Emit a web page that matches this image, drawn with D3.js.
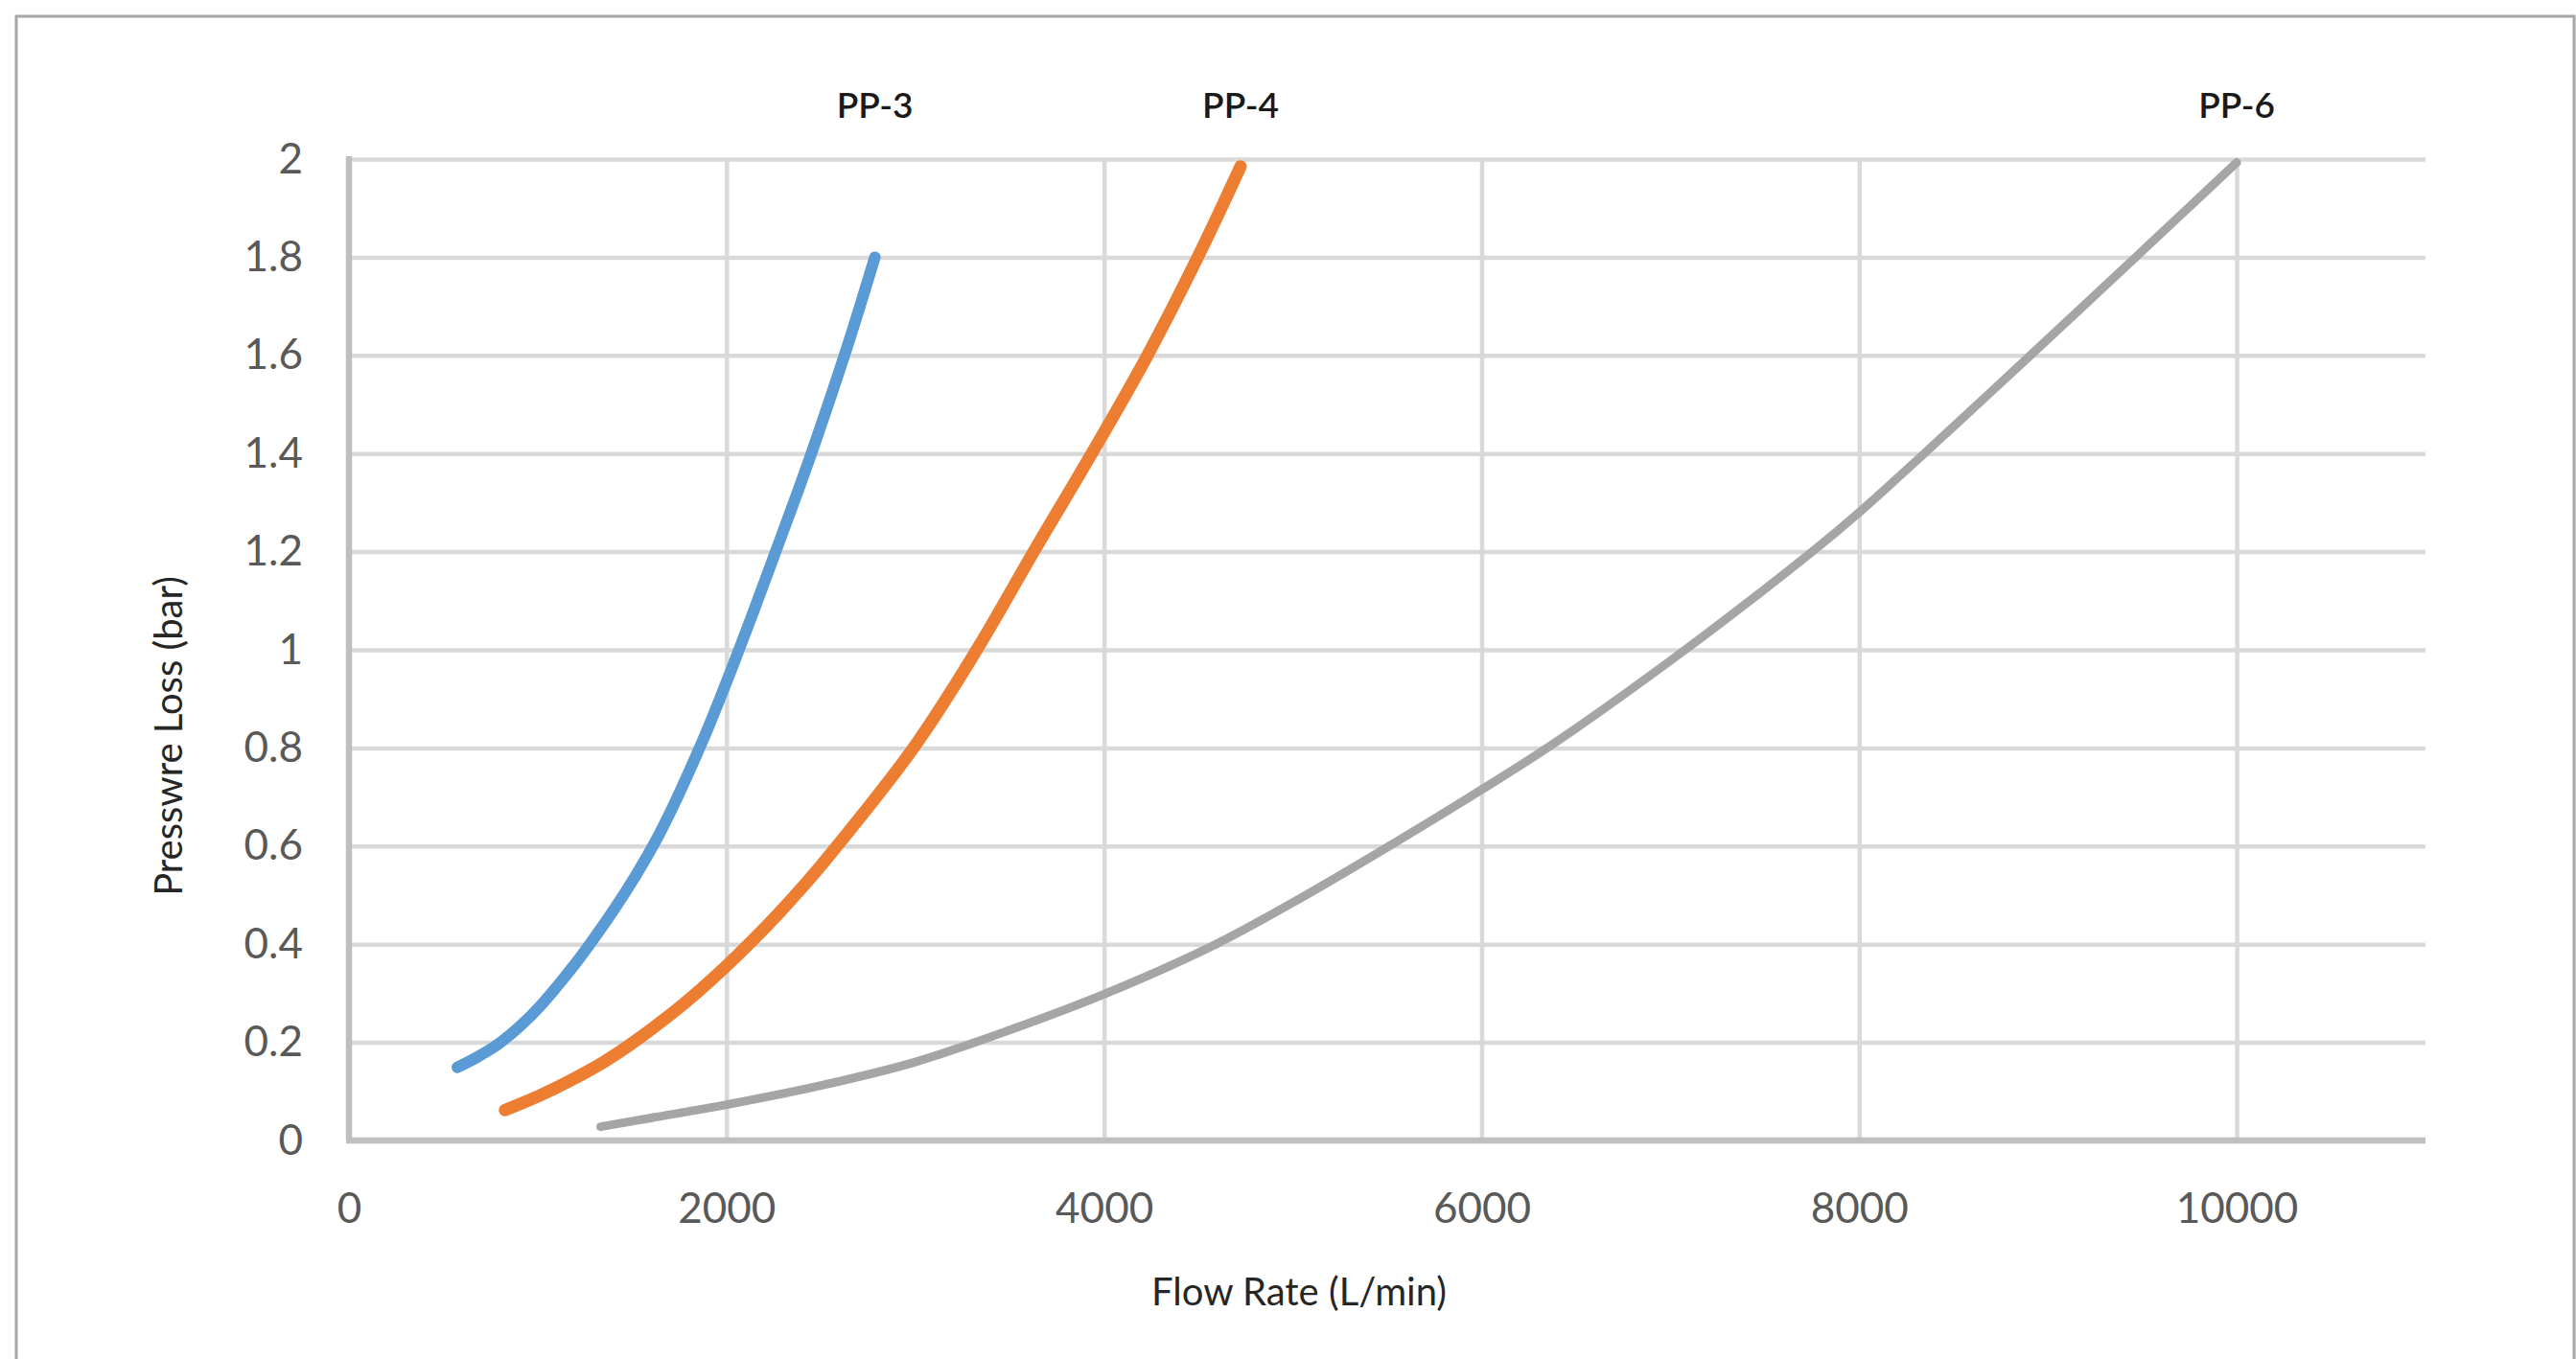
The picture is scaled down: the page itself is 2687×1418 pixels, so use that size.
<!DOCTYPE html>
<html>
<head>
<meta charset="utf-8">
<script src="https://cdn.jsdelivr.net/npm/d3@7"></script>
<style>
  body { margin: 0; background: #fff; }
  svg { display: block; }
</style>
</head>
<body>
<div id="chart"></div>
<script>
// Pressure loss vs flow rate for three pump sizes.
const seriesNames = ["PP-3", "PP-4", "PP-6"];
const seriesColors = ["#5b9bd5", "#ed7d31", "#a5a5a5"];
const seriesWidths = [12, 13, 9];

const pp3Flow = [574, 675, 793, 912, 1013, 1182, 1283, 1401, 1519, 1620, 1722, 1823, 1907, 2026, 2140, 2270, 2380, 2463, 2633, 2786];
const pp3Loss = [0.149, 0.169, 0.197, 0.235, 0.274, 0.352, 0.404, 0.469, 0.54, 0.607, 0.685, 0.77, 0.845, 0.96, 1.075, 1.21, 1.325, 1.415, 1.61, 1.8];

const pp4Flow = [827, 1013, 1182, 1350, 1485, 1688, 1857, 2000, 2118, 2279, 2397, 2532, 2990, 3310, 3635, 3950, 4230, 4490, 4723];
const pp4Loss = [0.062, 0.092, 0.124, 0.16, 0.194, 0.252, 0.306, 0.356, 0.4, 0.464, 0.514, 0.575, 0.8, 0.99, 1.205, 1.41, 1.6, 1.795, 1.985];

const pp6Flow = [1333, 1600, 2000, 2500, 3000, 3500, 4000, 4582, 5000, 5510, 6000, 6367, 7078, 7752, 8000, 8345, 8893, 9456, 10000];
const pp6Loss = [0.028, 0.046, 0.073, 0.112, 0.16, 0.225, 0.298, 0.398, 0.485, 0.6, 0.715, 0.805, 1.0, 1.2, 1.28, 1.4, 1.595, 1.797, 1.993];

const xTicks = [0, 2000, 4000, 6000, 8000, 10000];
const yTicks = [0, 0.2, 0.4, 0.6, 0.8, 1, 1.2, 1.4, 1.6, 1.8, 2];

const series = [
    { name: seriesNames[0], points: d3.zip(pp3Flow, pp3Loss) },
    { name: seriesNames[1], points: d3.zip(pp4Flow, pp4Loss) },
    { name: seriesNames[2], points: d3.zip(pp6Flow, pp6Loss) }
];

const width = 2687;
const height = 1418;
const margin = { top: 166, right: 157, bottom: 228, left: 364 };
const plotW = width - margin.left - margin.right;
const plotH = height - margin.top - margin.bottom;
const font = "Lato, 'Open Sans', sans-serif";

const svg = d3.select("#chart").append("svg")
    .attr("width", width)
    .attr("height", height);

// outer frame (only top and left edges fall inside the picture)
svg.append("rect")
    .attr("x", 17).attr("y", 17)
    .attr("width", 2668).attr("height", 1440)
    .attr("fill", "none")
    .attr("stroke", "#a6a6a6")
    .attr("stroke-width", 3);

const g = svg.append("g").attr("transform", `translate(${margin.left},${margin.top})`);

const x = d3.scaleLinear().domain([0, 11000]).range([0, plotW]);
const y = d3.scaleLinear().domain([0, 2]).range([plotH, 0]);

// gridlines
const gridY = g.append("g")
    .call(d3.axisLeft(y).tickValues(yTicks.filter(d => d > 0)).tickSize(-plotW).tickFormat(""));
const gridX = g.append("g")
    .attr("transform", `translate(0,${plotH})`)
    .call(d3.axisBottom(x).tickValues(xTicks.filter(d => d > 0)).tickSize(-plotH).tickFormat(""));
[gridY, gridX].forEach(grid => {
    grid.select(".domain").remove();
    grid.selectAll("line").attr("stroke", "#d9d9d9").attr("stroke-width", 4.5);
});

// axis lines
g.append("line")
    .attr("x1", 0).attr("x2", 0).attr("y1", -3).attr("y2", plotH)
    .attr("stroke", "#bfbfbf").attr("stroke-width", 6.5);
g.append("line")
    .attr("x1", -3).attr("x2", plotW).attr("y1", plotH).attr("y2", plotH)
    .attr("stroke", "#bfbfbf").attr("stroke-width", 6.5);

// tick labels
const yAxis = g.append("g")
    .call(d3.axisLeft(y).tickValues(yTicks).tickSize(0).tickPadding(48).tickFormat(d3.format("~g")));
const xAxis = g.append("g")
    .attr("transform", `translate(0,${plotH})`)
    .call(d3.axisBottom(x).tickValues(xTicks).tickSize(0).tickPadding(55).tickFormat(d3.format("d")));
[yAxis, xAxis].forEach(axis => {
    axis.select(".domain").remove();
    axis.selectAll("text")
        .attr("fill", "#595959")
        .style("font-family", font)
        .style("font-size", "44px");
});

// curves
const line = d3.line()
    .x(d => x(d[0]))
    .y(d => y(d[1]))
    .curve(d3.curveCatmullRom.alpha(0.5));

g.selectAll(".curve")
    .data(series)
    .join("path")
    .attr("class", "curve")
    .attr("d", s => line(s.points))
    .attr("fill", "none")
    .attr("stroke", (s, i) => seriesColors[i])
    .attr("stroke-width", (s, i) => seriesWidths[i])
    .attr("stroke-linecap", "round")
    .attr("stroke-linejoin", "round");

// series labels above the end of each curve
g.selectAll(".series-label")
    .data(series)
    .join("text")
    .attr("class", "series-label")
    .attr("x", s => x(s.points[s.points.length - 1][0]))
    .attr("y", 123 - margin.top)
    .attr("text-anchor", "middle")
    .attr("fill", "#1a1a1a")
    .style("font-family", font)
    .style("font-weight", "600")
    .style("font-size", "37px")
    .text(s => s.name);

// axis titles
svg.append("text")
    .attr("x", 1355)
    .attr("y", 1362)
    .attr("text-anchor", "middle")
    .attr("fill", "#262626")
    .style("font-family", font)
    .style("font-size", "40px")
    .text("Flow Rate (L/min)");

svg.append("text")
    .attr("transform", "translate(190,768) rotate(-90)")
    .attr("text-anchor", "middle")
    .attr("fill", "#262626")
    .style("font-family", font)
    .style("font-size", "40px")
    .text("Presswre Loss (bar)");
</script>
</body>
</html>
